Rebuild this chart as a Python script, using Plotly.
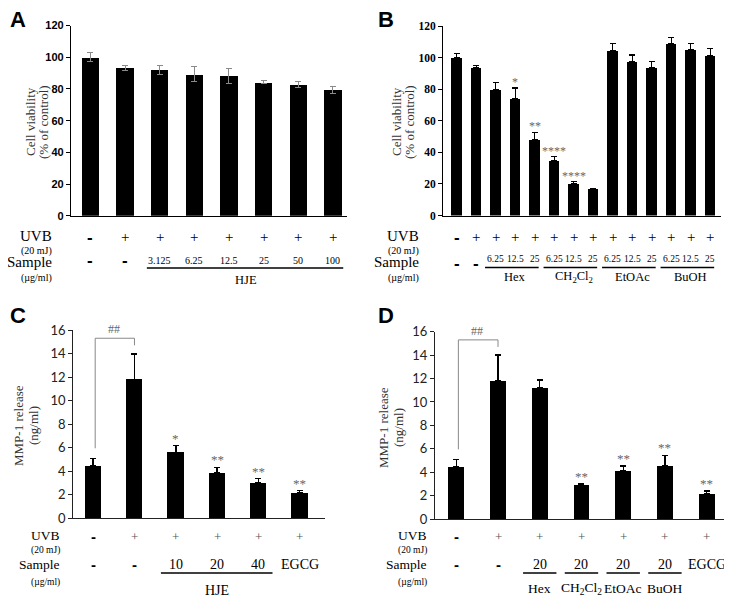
import plotly.graph_objects as go

# The page body has an 8px margin; figure is laid out in reference pixel coordinates.
OFF = 8
W, H = 724, 589
def X(px): return (px - OFF) / W
def Y(py): return 1 - (py - OFF) / H

# ---------------- data ----------------
a_vals = [100, 93.5, 92, 89.3, 88.4, 84.2, 83, 79.4]
a_err = [2.8, 1.6, 2.6, 4.8, 4.8, 1.0, 1.8, 2.0]
a_uvb = ["-", "+", "+", "+", "+", "+", "+", "+"]
a_sample = ["-", "-", "3.125", "6.25", "12.5", "25", "50", "100"]

b_vals = [100, 93.7, 79.6, 73.9, 47.9, 34.6, 19.9, 16.5, 104.2, 97.3, 93.5, 108.7, 104.9, 101.1]
b_err = [2.8, 1.5, 4.6, 6.9, 4.9, 2.7, 1.6, 0.4, 4.5, 4.4, 3.9, 4.2, 3.8, 4.6]
b_uvb = ["-"] + ["+"] * 13
b_sample = ["-", "-"] + ["6.25", "12.5", "25"] * 4
b_stars = ["", "", "", "*", "**", "****", "****", "", "", "", "", "", "", ""]
b_groups = ["Hex", "CH<sub>2</sub>Cl<sub>2</sub>", "EtOAc", "BuOH"]

c_vals = [4.47, 11.81, 5.6, 3.87, 3.0, 2.15]
c_err = [0.63, 2.15, 0.57, 0.46, 0.37, 0.2]
c_uvb = ["-", "+", "+", "+", "+", "+"]
c_sample = ["-", "-", "10", "20", "40", "EGCG"]
c_stars = ["", "", "*", "**", "**", "**"]

d_vals = [4.5, 11.81, 11.21, 2.9, 4.12, 4.58, 2.16]
d_err = [0.6, 2.2, 0.66, 0.09, 0.41, 0.86, 0.23]
d_uvb = ["-", "+", "+", "+", "+", "+", "+"]
d_sample = ["-", "-", "20", "20", "20", "20", "EGCG"]
d_stars = ["", "", "", "**", "**", "**", "**"]
d_groups = ["Hex", "CH<sub>2</sub>Cl<sub>2</sub>", "EtOAc", "BuOH"]

bracket_low = [5.95, 14.7]   # leg bottoms for ## bracket
bracket_top = 15.3

SERIF = "Liberation Serif"
SANS = "Liberation Sans"

fig = go.Figure()

# ---------------- bars ----------------
fig.add_trace(go.Bar(x=list(range(len(a_vals))), y=a_vals, width=0.5,
                     marker=dict(color="black", line=dict(width=0)),
                     error_y=dict(type="data", array=a_err, symmetric=True, color="#8a8a8a",
                                  thickness=1, width=3),
                     xaxis="x", yaxis="y", showlegend=False))
fig.add_trace(go.Bar(x=list(range(len(b_vals))), y=b_vals, width=0.52,
                     marker=dict(color="black", line=dict(width=0)),
                     error_y=dict(type="data", array=b_err, arrayminus=[0] * len(b_err),
                                  color="black", thickness=1.2, width=3),
                     xaxis="x2", yaxis="y2", showlegend=False))
fig.add_trace(go.Bar(x=list(range(len(c_vals))), y=c_vals, width=0.4,
                     marker=dict(color="black", line=dict(width=0)),
                     error_y=dict(type="data", array=c_err, arrayminus=[0] * len(c_err),
                                  color="black", thickness=1.4, width=3),
                     xaxis="x3", yaxis="y3", showlegend=False))
fig.add_trace(go.Bar(x=list(range(len(d_vals))), y=d_vals, width=0.38,
                     marker=dict(color="black", line=dict(width=0)),
                     error_y=dict(type="data", array=d_err, arrayminus=[0] * len(d_err),
                                  color="black", thickness=1.4, width=3),
                     xaxis="x4", yaxis="y4", showlegend=False))

def xax(domain, rng, anchor, color="black"):
    return dict(domain=domain, range=rng, showticklabels=False, ticks="", showgrid=False,
                zeroline=False, showline=True, linecolor=color, linewidth=1.3, fixedrange=True,
                automargin=False, anchor=anchor)

def yax(domain, rng, dtick, font, anchor, color="black"):
    return dict(domain=domain, range=rng, dtick=dtick, tick0=0, ticks="outside", ticklen=4,
                tickcolor=color, tickwidth=1, showgrid=False, zeroline=False, showline=True,
                linecolor=color, linewidth=1.3, tickfont=font, anchor=anchor, fixedrange=True,
                automargin=False)

fig.update_layout(
    width=W, height=H, margin=dict(l=0, r=0, t=0, b=0, autoexpand=False),
    paper_bgcolor="white", plot_bgcolor="white", bargap=0,
    xaxis=xax([X(71), X(346.7)], [-0.56, 7.40], "y"),
    yaxis=yax([Y(215.7), Y(25.6)], [0, 120], 20,
              dict(family=SANS, size=11, color="black", weight="bold"), "x"),
    xaxis2=xax([X(443.3), X(721)], [-0.69, 13.55], "y2"),
    yaxis2=yax([Y(215.5), Y(26)], [0, 120], 20,
               dict(family=SERIF, size=11.5, color="black", weight="bold"), "x2"),
    xaxis3=xax([X(73.3), X(325)], [-0.48, 5.61], "y3", "#222"),
    yaxis3=yax([Y(518.3), Y(330)], [0, 16], 2,
               dict(family="Lato", size=13, color="#222"), "x3", "#222"),
    xaxis4=xax([X(435), X(726.7)], [-0.51, 6.48], "y4", "#222"),
    yaxis4=yax([Y(519), Y(331.7)], [0, 16], 2,
               dict(family="Lato", size=13, color="#222"), "x4", "#222"),
)

ann = []
shapes = []

def txt(text, x, y, size, xref="paper", family=SERIF, color="black", xanchor="center",
        weight="normal", yanchor="middle"):
    ann.append(dict(text=text, x=x, y=y, xref=xref, yref="paper", showarrow=False,
                    xanchor=xanchor, yanchor=yanchor,
                    font=dict(family=family, size=size, color=color, weight=weight)))

def hline(xref, x0, x1, py, width=1.3):
    shapes.append(dict(type="line", xref=xref, yref="paper", x0=x0, x1=x1, y0=Y(py), y1=Y(py),
                       line=dict(color="black", width=width)))

# panel letters
for letter, px, py in [("A", 18, 20), ("B", 386, 20), ("C", 18, 315), ("D", 386, 315)]:
    txt(letter, X(px), Y(py), 22, family=SANS, weight="bold")

# y-axis titles (two rotated lines each)
def ytitle(lines, xs, py, size=13):
    for text, px in zip(lines, xs):
        ann.append(dict(text=text, x=X(px), y=Y(py), xref="paper", yref="paper", showarrow=False,
                        textangle=-90, xanchor="center", yanchor="middle",
                        font=dict(family=SERIF, size=size, color="#333")))
ytitle(["Cell viability", "(% of control)"], [30, 43], 122)
ytitle(["Cell viability", "(% of control)"], [396, 409], 122)
ytitle(["MMP-1 release", "(ng/ml)"], [18, 33], 426)
ytitle(["MMP-1 release", "(ng/ml)"], [383, 398], 428)

# row labels
def rowlabels(rx, ys, big, small):
    txt("UVB", X(rx), Y(ys[0]), big, xanchor="right")
    txt("(20 mJ)", X(rx), Y(ys[1]), small, xanchor="right")
    txt("Sample", X(rx), Y(ys[2]), big, xanchor="right")
    txt("(µg/ml)", X(rx), Y(ys[3]), small, xanchor="right")

rowlabels(54, [236, 250.5, 262, 278], 15, 10)
rowlabels(421, [236, 250.5, 262, 278], 15, 10)
rowlabels(62, [535, 550, 564, 582], 13.5, 9.5)
rowlabels(429, [535, 550, 564, 582], 13.5, 9.5)

def sign(s, xref, i, py, plus_color="black", plus_size=15, minus_size=17):
    if s == "+":
        txt("+", i, Y(py), plus_size, xref=xref, color=plus_color)
    else:
        txt("-", i, Y(py), minus_size, xref=xref, family=SANS, weight="bold")

# Panel A bottom
for i, s in enumerate(a_uvb):
    sign(s, "x", i, 237)
for i, s in enumerate(a_sample):
    if s == "-":
        sign(s, "x", i, 260)
    else:
        txt(s, i, Y(261), 10, xref="x")
hline("x", 2 - 0.37, 7 + 0.3, 268)
txt("HJE", 4.5, Y(280), 12.5, xref="x")

# Panel B bottom
for i, s in enumerate(b_uvb):
    sign(s, "x2", i, 237)
for i, s in enumerate(b_sample):
    if s == "-":
        sign(s, "x2", i, 263)
    else:
        txt(s, i, Y(259), 9.5, xref="x2")
for g, name in enumerate(b_groups):
    first = 2 + 3 * g
    hline("x2", first - 0.55, first + 2 + 0.2, 267.5)
    txt(name, first + 1, Y(276.5), 12.5, xref="x2")
for i, s in enumerate(b_stars):
    if s:
        ann.append(dict(text=s, x=i, y=b_vals[i] + b_err[i], xref="x2", yref="y2",
                        showarrow=False, yanchor="bottom", yshift=-3,
                        font=dict(family=SERIF, size=12, color="#666")))

# Panel C bottom
for i, s in enumerate(c_uvb):
    sign(s, "x3", i, 536, plus_color="#555", plus_size=13, minus_size=15)
for i, s in enumerate(c_sample):
    if s == "-":
        sign(s, "x3", i, 564, minus_size=15)
    else:
        txt(s, i, Y(564), 14, xref="x3")
hline("x3", 2 - 0.36, 4 + 0.34, 573)
txt("HJE", 3, Y(590), 14, xref="x3")
for i, s in enumerate(c_stars):
    if s:
        ann.append(dict(text=s, x=i, y=c_vals[i] + c_err[i], xref="x3", yref="y3",
                        showarrow=False, yanchor="bottom", yshift=-2,
                        font=dict(family=SERIF, size=13, color="#666")))

# Panel D bottom
for i, s in enumerate(d_uvb):
    sign(s, "x4", i, 536, plus_color="#555", plus_size=13, minus_size=15)
for i, s in enumerate(d_sample):
    if s == "-":
        sign(s, "x4", i, 564, minus_size=15)
    else:
        txt(s, i, Y(564), 14, xref="x4")
for g, name in enumerate(d_groups):
    idx = 2 + g
    hline("x4", idx - 0.4, idx + 0.4, 573)
    txt(name, idx, Y(588), 13.5, xref="x4")
for i, s in enumerate(d_stars):
    if s:
        ann.append(dict(text=s, x=i, y=d_vals[i] + d_err[i], xref="x4", yref="y4",
                        showarrow=False, yanchor="bottom", yshift=-2,
                        font=dict(family=SERIF, size=13, color="#666")))

# ## brackets
for xr, yr in [("x3", "y3"), ("x4", "y4")]:
    shapes.append(dict(type="path", xref=xr, yref=yr,
                       path=f"M 0.05 {bracket_low[0]} L 0.05 {bracket_top} L 1 {bracket_top} L 1 {bracket_low[1]}",
                       line=dict(color="#888", width=1)))
    ann.append(dict(text="##", x=0.5, y=bracket_top, xref=xr, yref=yr, showarrow=False,
                    yanchor="bottom", yshift=0,
                    font=dict(family=SERIF, size=12, color="#666")))

fig.update_layout(annotations=ann, shapes=shapes)
fig.write_html("out.html")
